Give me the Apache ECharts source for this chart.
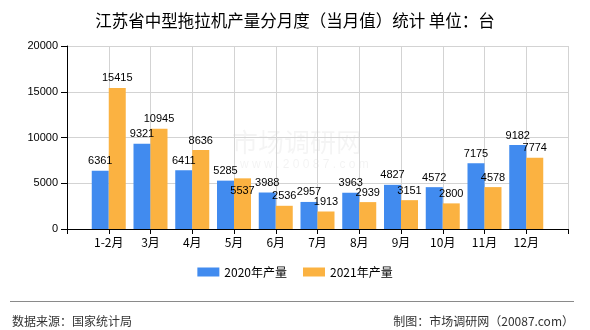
<!DOCTYPE html>
<html>
<head>
<meta charset="utf-8">
<script src="https://cdn.jsdelivr.net/npm/echarts@6/dist/echarts.min.js"></script>
<style>
  html, body { margin: 0; padding: 0; background: #fff; }
  #chart { width: 590px; height: 330px; }
</style>
</head>
<body>
<div id="chart"></div>
<script>
// Monthly output of medium tractors in Jiangsu (units: 台)
const months = ['1-2月', '3月', '4月', '5月', '6月', '7月', '8月', '9月', '10月', '11月', '12月'];
const output2020 = [6361, 9321, 6411, 5285, 3988, 2957, 3963, 4827, 4572, 7175, 9182];
const output2021 = [15415, 10945, 8636, 5537, 2536, 1913, 2939, 3151, 2800, 4578, 7774];
const seriesNames = ['2020年产量', '2021年产量'];
const yTicks = { min: 0, max: 20000, interval: 5000 };

const FONT = '"Liberation Sans", "Noto Sans CJK SC", sans-serif';
const CJK = '"Noto Sans CJK SC", "Liberation Sans", sans-serif';

// the axis runs from an empty slot before the first month to one after the last,
// so each month's bars sit on a tick
const axisCats = [''].concat(months, ['']);
function pad(arr) { return ['-'].concat(arr, ['-']); }

// nudges for labels that would collide with a neighbour's label
const labelShift2021 = { 3: [0, 22] };

function withShifts(arr, shifts) {
  return pad(arr).map(function (v, i) {
    const s = shifts[i - 1];
    if (v === '-' || !s) return v;
    return { value: v, label: { offset: s } };
  });
}

const chart = echarts.init(document.getElementById('chart'), null, { renderer: 'canvas' });

const labelStyle = {
  show: true,
  position: 'top',
  distance: 4,
  color: '#000',
  fontSize: 11,
  fontFamily: FONT
};

chart.setOption({
  animation: false,
  backgroundColor: '#fff',
  title: {
    text: '江苏省中型拖拉机产量分月度（当月值）统计 单位：台',
    left: 'center',
    top: 7,
    textStyle: { fontSize: 16.5, fontWeight: 'normal', color: '#000', fontFamily: CJK }
  },
  grid: { left: 67, right: 22, top: 46, bottom: 101, containLabel: false },
  legend: {
    data: seriesNames,
    bottom: 47,
    left: 'center',
    itemWidth: 22,
    itemHeight: 9,
    itemGap: 16,
    icon: 'rect',
    textStyle: { fontSize: 12, color: '#000', fontFamily: CJK }
  },
  xAxis: {
    type: 'category',
    data: axisCats,
    boundaryGap: false,
    axisLine: { show: true, lineStyle: { color: '#000', width: 1 } },
    axisTick: { show: true, length: 5, lineStyle: { color: '#000' } },
    axisLabel: { interval: 0, color: '#000', fontSize: 12, margin: 7, fontFamily: CJK },
    splitLine: { show: true, lineStyle: { color: '#d3d3d3', width: 1 } }
  },
  yAxis: {
    type: 'value',
    min: yTicks.min,
    max: yTicks.max,
    interval: yTicks.interval,
    axisLine: { show: true, lineStyle: { color: '#000', width: 1 } },
    axisTick: { show: true, length: 6, lineStyle: { color: '#000' } },
    axisLabel: {
      color: '#000', fontSize: 11, margin: 9, fontFamily: FONT,
      formatter: function (v) { return String(v); }
    },
    splitLine: { show: true, lineStyle: { color: '#d3d3d3', width: 1 } }
  },
  series: [
    {
      name: seriesNames[0],
      type: 'bar',
      data: pad(output2020),
      barWidth: 17,
      barGap: '0%',
      itemStyle: { color: '#418bef' },
      label: labelStyle
    },
    {
      name: seriesNames[1],
      type: 'bar',
      data: withShifts(output2021, labelShift2021),
      barWidth: 17,
      barGap: '0%',
      itemStyle: { color: '#fbb241' },
      label: labelStyle
    }
  ],
  graphic: [
    {
      type: 'text', left: 232, top: 129, silent: true, z: 0,
      style: { text: '市场调研网', fill: 'rgba(0,0,0,0.045)', font: '26px ' + CJK }
    },
    {
      type: 'text', left: 240, top: 159, silent: true, z: 0,
      style: { text: 'w w w . 2 0 0 8 7 . c o m', fill: 'rgba(0,0,0,0.05)', font: '12px ' + FONT }
    },
    {
      type: 'line', silent: true,
      shape: { x1: 10, y1: 301.5, x2: 574, y2: 301.5 },
      style: { stroke: '#8a8a8a', lineWidth: 1 }
    },
    {
      type: 'text', left: 12, top: 315, silent: true,
      style: { text: '数据来源：国家统计局', fill: '#333', font: '12px ' + CJK }
    },
    {
      type: 'text', right: 16, top: 315, silent: true,
      style: { text: '制图：市场调研网（20087.com）', fill: '#333', font: '12px ' + CJK }
    }
  ]
});
</script>
</body>
</html>
